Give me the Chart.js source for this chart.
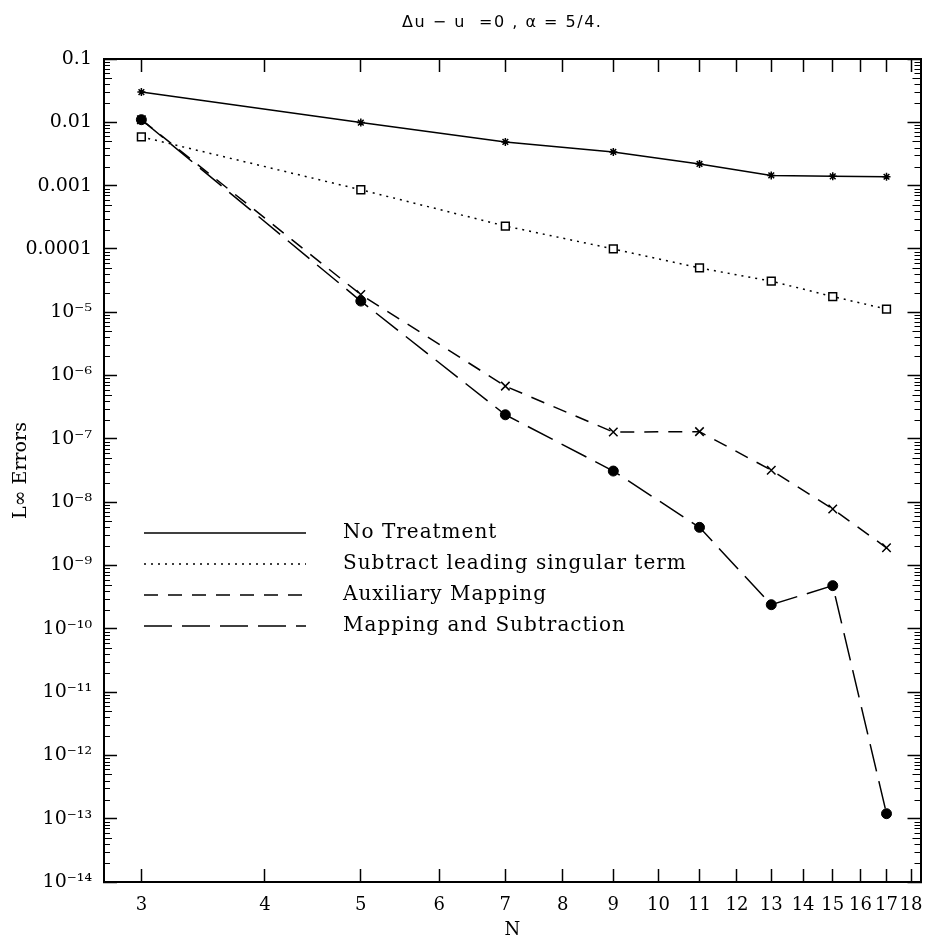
<!DOCTYPE html>
<html><head><meta charset="utf-8">
<script src="https://cdn.jsdelivr.net/npm/chart.js@4.4.1/dist/chart.umd.min.js"></script>
<style>html,body{margin:0;padding:0;background:#fff}#wrap{width:928px;height:939px}</style>
</head><body><div id="wrap"><canvas id="c" width="928" height="939"></canvas></div>
<script>
const chartTitle = 'Δu − u  =0 , α = 5/4.';
const yAxisTitle = 'L∞ Errors';
const xAxisTitle = 'N';
const seriesLabels = ['No Treatment', 'Subtract leading singular term', 'Auxiliary Mapping', 'Mapping and Subtraction'];
const nValues = [3, 5, 7, 9, 11, 13, 15, 17];
const noTreatment = [0.030, 0.0099, 0.0049, 0.0034, 0.0022, 0.00145, 0.0014, 0.00138];
const subtractLeading = [0.0059, 0.00086, 0.00023, 0.0001, 0.00005, 0.000031, 0.0000177, 0.0000112];
const auxiliaryMapping = [0.011, 1.9e-5, 6.8e-7, 1.28e-7, 1.3e-7, 3.2e-8, 7.8e-9, 1.9e-9];
const mappingSubtraction = [0.011, 1.5e-5, 2.4e-7, 3.1e-8, 4.0e-9, 2.4e-10, 4.8e-10, 1.2e-13];
const xTickValues = [3, 4, 5, 6, 7, 8, 9, 10, 11, 12, 13, 14, 15, 16, 17, 18];
const xTickLabels = ['3', '4', '5', '6', '7', '8', '9', '10', '11', '12', '13', '14', '15', '16', '17', '18'];
const yTickValues = [1e-14, 1e-13, 1e-12, 1e-11, 1e-10, 1e-9, 1e-8, 1e-7, 1e-6, 1e-5, 1e-4, 1e-3, 1e-2, 1e-1];
const yTickLabels = ['10⁻¹⁴', '10⁻¹³', '10⁻¹²', '10⁻¹¹', '10⁻¹⁰', '10⁻⁹', '10⁻⁸', '10⁻⁷', '10⁻⁶', '10⁻⁵', '0.0001', '0.001', '0.01', '0.1'];
const yMinorMultipliers = [2, 3, 4, 5, 6, 7, 8, 9];
const xAxisMin = 2.75, xAxisMax = 18.4;
const yAxisMin = 1e-14, yAxisMax = 0.1;

const serif = 'DejaVu Serif';
const toPts = arr => nValues.map((n, i) => ({x: n, y: arr[i]}));

const decor = {
  id: 'decor',
  afterDraw(chart) {
    const ctx = chart.ctx, ca = chart.chartArea, ys = chart.scales.y;
    ctx.save();
    ctx.strokeStyle = '#000';
    ctx.lineWidth = 1.2;
    ctx.setLineDash([]);
    for (let d = 0; d < yTickValues.length - 1; d++) {
      for (const k of yMinorMultipliers) {
        const py = Math.round(ys.getPixelForValue(k * yTickValues[d])) + 0.5;
        const len = k === 5 ? 8 : 6;
        ctx.beginPath();
        ctx.moveTo(ca.left, py); ctx.lineTo(ca.left + len, py);
        ctx.moveTo(ca.right - len, py); ctx.lineTo(ca.right, py);
        ctx.stroke();
      }
    }
    ctx.fillStyle = '#000';
    ctx.font = '16px "DejaVu Sans"';
    ctx.letterSpacing = '1.5px';
    ctx.textAlign = 'center';
    ctx.textBaseline = 'middle';
    ctx.fillText(chartTitle, (ca.left + ca.right) / 2 - 10, 23);
    const lx = ca.left + 40, ly = ca.top + 474, step = 31;
    ctx.letterSpacing = '1px';
    chart.data.datasets.forEach((ds, i) => {
      const y = ly + i * step;
      ctx.beginPath();
      ctx.lineWidth = ds.borderWidth;
      ctx.setLineDash(ds.borderDash || []);
      ctx.moveTo(lx, y); ctx.lineTo(lx + 162, y);
      ctx.stroke();
      ctx.setLineDash([]);
      ctx.font = '20px "' + serif + '"';
      ctx.textAlign = 'left';
      ctx.fillText(ds.label, lx + 199, y);
    });
    ctx.letterSpacing = '0px';
    ctx.restore();
  }
};

const gridOpts = {drawOnChartArea: false, drawTicks: true, tickLength: -13, tickWidth: 1.5, tickColor: '#000'};
const borderOpts = {display: true, color: '#000', width: 2};
const noPad = s => { s.paddingLeft = 0; s.paddingRight = 0; s.paddingTop = 0; s.paddingBottom = 0; };

new Chart(document.getElementById('c'), {
  type: 'line',
  data: {
    datasets: [
      {label: seriesLabels[0], data: toPts(noTreatment), borderColor: '#000', borderWidth: 1.5,
       pointStyle: 'star', pointRadius: 4, pointBorderWidth: 1.5, pointBorderColor: '#000', pointBackgroundColor: '#000'},
      {label: seriesLabels[1], data: toPts(subtractLeading), borderColor: '#000', borderWidth: 1.5, borderDash: [2, 5],
       pointStyle: 'rect', pointRadius: 5.5, pointBorderWidth: 1.5, pointBorderColor: '#000', pointBackgroundColor: '#fff'},
      {label: seriesLabels[2], data: toPts(auxiliaryMapping), borderColor: '#000', borderWidth: 1.5, borderDash: [14, 10],
       pointStyle: 'crossRot', pointRadius: 6, pointBorderWidth: 1.5, pointBorderColor: '#000', pointBackgroundColor: '#000'},
      {label: seriesLabels[3], data: toPts(mappingSubtraction), borderColor: '#000', borderWidth: 1.5, borderDash: [28, 10],
       pointStyle: 'circle', pointRadius: 5, pointBorderWidth: 1, pointBorderColor: '#000', pointBackgroundColor: '#000'}
    ]
  },
  options: {
    responsive: false,
    animation: false,
    events: [],
    layout: {padding: 0},
    plugins: {legend: {display: false}, tooltip: {enabled: false}, title: {display: false}},
    scales: {
      x: {type: 'logarithmic', position: 'bottom', min: xAxisMin, max: xAxisMax,
        afterBuildTicks: s => { s.ticks = xTickValues.map(v => ({value: v})); },
        afterFit: s => { s.height = 57; noPad(s); },
        ticks: {autoSkip: false, maxRotation: 0, minRotation: 0, padding: 26, color: '#000',
          font: {family: serif, size: 18}, callback: (v, i) => xTickLabels[i]},
        grid: gridOpts, border: borderOpts,
        title: {display: true, text: xAxisTitle, color: '#000', font: {family: serif, size: 18, lineHeight: 1}, padding: 0}
      },
      x2: {type: 'logarithmic', position: 'top', min: xAxisMin, max: xAxisMax,
        afterBuildTicks: s => { s.ticks = xTickValues.map(v => ({value: v})); },
        afterFit: s => { s.height = 59; noPad(s); },
        ticks: {display: false}, grid: gridOpts, border: borderOpts
      },
      y: {type: 'logarithmic', position: 'left', min: yAxisMin, max: yAxisMax,
        afterBuildTicks: s => { s.ticks = yTickValues.map(v => ({value: v})); },
        afterFit: s => { s.width = 104; noPad(s); },
        ticks: {autoSkip: false, padding: 25, color: '#000', font: {family: serif, size: 19},
          callback: (v, i) => yTickLabels[i]},
        grid: gridOpts, border: borderOpts,
        title: {display: true, text: yAxisTitle, color: '#000', font: {family: serif, size: 19}, padding: {top: 10, bottom: 0}}
      },
      y2: {type: 'logarithmic', position: 'right', min: yAxisMin, max: yAxisMax,
        afterBuildTicks: s => { s.ticks = yTickValues.map(v => ({value: v})); },
        afterFit: s => { s.width = 7; noPad(s); },
        ticks: {display: false}, grid: gridOpts, border: borderOpts
      }
    }
  },
  plugins: [decor]
});
</script>
</body></html>
